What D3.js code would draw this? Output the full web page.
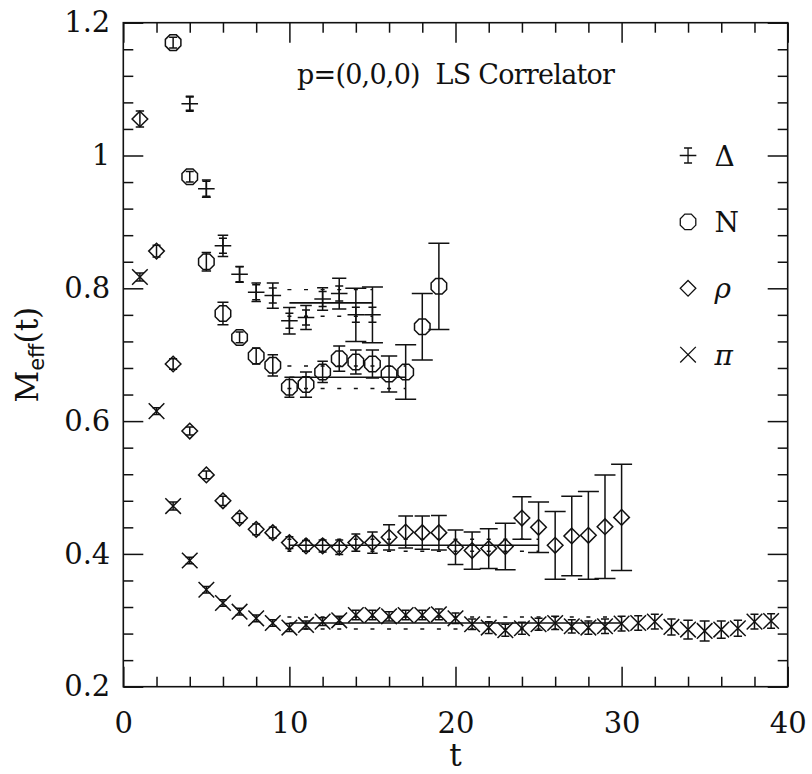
<!DOCTYPE html>
<html>
<head>
<meta charset="utf-8">
<script src="https://cdn.jsdelivr.net/npm/d3@7"></script>
<style>
  body { margin: 0; background: #fff; }
  text { fill: #111; }
</style>
</head>
<body>
<div id="chart"></div>
<script>

// ---- data ----
var tDelta = [4, 5, 6, 7, 8, 9, 10, 11, 12, 13, 14, 15];
var mDelta = [1.078, 0.950, 0.864, 0.821, 0.794, 0.789, 0.751, 0.756, 0.784, 0.792, 0.760, 0.760];
var eDelta = [0.010, 0.013, 0.016, 0.012, 0.014, 0.019, 0.020, 0.018, 0.017, 0.023, 0.040, 0.042];

var tN = [3, 4, 5, 6, 7, 8, 9, 10, 11, 12, 13, 14, 15, 16, 17, 18, 19];
var mN = [1.170, 0.968, 0.840, 0.762, 0.726, 0.698, 0.684, 0.651, 0.655, 0.674, 0.694, 0.689, 0.686, 0.671, 0.674, 0.742, 0.803];
var eN = [0.008, 0.008, 0.014, 0.017, 0.008, 0.012, 0.016, 0.015, 0.019, 0.016, 0.019, 0.018, 0.021, 0.027, 0.041, 0.050, 0.065];

var tRho = [1, 2, 3, 4, 5, 6, 7, 8, 9, 10, 11, 12, 13, 14, 15, 16, 17, 18, 19, 20, 21, 22, 23, 24, 25, 26, 27, 28, 29, 30];
var mRho = [1.055, 0.856, 0.686, 0.585, 0.519, 0.480, 0.454, 0.437, 0.432, 0.417, 0.412, 0.412, 0.410, 0.417, 0.417,
            0.425, 0.433, 0.432, 0.432, 0.410, 0.405, 0.408, 0.411, 0.454, 0.440, 0.413, 0.427, 0.428, 0.441, 0.455];
var eRho = [0.012, 0.009, 0.008, 0.006, 0.006, 0.007, 0.007, 0.008, 0.008, 0.009, 0.008, 0.009, 0.011, 0.013, 0.016,
            0.019, 0.024, 0.025, 0.026, 0.026, 0.028, 0.030, 0.035, 0.032, 0.038, 0.051, 0.060, 0.066, 0.078, 0.080];

var tPi = [1, 2, 3, 4, 5, 6, 7, 8, 9, 10, 11, 12, 13, 14, 15, 16, 17, 18, 19, 20,
           21, 22, 23, 24, 25, 26, 27, 28, 29, 30, 31, 32, 33, 34, 35, 36, 37, 38, 39];
var mPi = [0.817, 0.615, 0.472, 0.390, 0.346, 0.326, 0.313, 0.303, 0.296, 0.289, 0.293, 0.298, 0.300, 0.308, 0.308,
           0.306, 0.308, 0.308, 0.309, 0.303, 0.294, 0.289, 0.285, 0.288, 0.294, 0.296, 0.291, 0.289, 0.291, 0.295,
           0.296, 0.298, 0.290, 0.286, 0.284, 0.286, 0.288, 0.298, 0.299];
var ePi = [0.006, 0.005, 0.006, 0.005, 0.005, 0.005, 0.005, 0.005, 0.005, 0.006, 0.006, 0.006, 0.006, 0.007, 0.007,
           0.007, 0.007, 0.007, 0.008, 0.008, 0.008, 0.009, 0.009, 0.009, 0.009, 0.010, 0.010, 0.010, 0.011, 0.011,
           0.011, 0.011, 0.012, 0.014, 0.015, 0.013, 0.012, 0.011, 0.011];

// plateau fits: start, end, value, error
var fitNames = ["Delta", "N", "rho", "pi"];
var fitStart = [10, 10, 10, 10];
var fitEnd   = [15, 17, 25, 30];
var fitValue = [0.778, 0.666, 0.413, 0.296];
var fitError = [0.020, 0.017, 0.009, 0.009];

var legendLabels = ["\u0394", "N", "\u03c1", "\u03c0"];
var legendItalic = [false, false, true, true];

var xMajorTicks = [0, 10, 20, 30, 40];
var xTickLabels = ["0", "10", "20", "30", "40"];
var yMajorTicks = [0.2, 0.4, 0.6, 0.8, 1.0, 1.2];
var yTickLabels = ["0.2", "0.4", "0.6", "0.8", "1", "1.2"];

var titleText = "p=(0,0,0)  LS Correlator";

// ---- chart ----
var W = 812, H = 774;
var pLeft = 123.3, pRight = 787.7, pTop = 22.7, pBottom = 686.7;
var ink = "#111";
var serif = "'DejaVu Serif', 'Liberation Serif', serif";

var svg = d3.select("#chart").append("svg")
    .attr("width", W).attr("height", H)
    .attr("viewBox", "0 0 " + W + " " + H);

var x = d3.scaleLinear().domain([0, 40]).range([pLeft, pRight]);
var y = d3.scaleLinear().domain([0.2, 1.2]).range([pBottom, pTop]);

var xMinor = d3.range(0, 40.001, 2).filter(function(v){ return v % 10 !== 0; });
var yMinor = d3.range(0, 26).map(function(i){ return +(0.2 + i * 0.04).toFixed(2); })
    .filter(function(v){ return yMajorTicks.indexOf(v) < 0 && v <= 1.2; });

function styleAxis(g){
    g.select(".domain").remove();
    g.selectAll("line").attr("stroke", ink).attr("stroke-width", 1.5);
    g.selectAll("text").attr("font-family", serif).attr("font-size", 29).attr("fill", ink);
}

// bottom / top
svg.append("g").attr("transform", "translate(0," + pBottom + ")")
    .call(d3.axisBottom(x).tickValues(xMajorTicks).tickSize(-20).tickPadding(26)
        .tickFormat(function(d, i){ return xTickLabels[i]; }))
    .call(styleAxis);
svg.append("g").attr("transform", "translate(0," + pBottom + ")")
    .call(d3.axisBottom(x).tickValues(xMinor).tickSize(-10).tickFormat(""))
    .call(styleAxis);
svg.append("g").attr("transform", "translate(0," + pTop + ")")
    .call(d3.axisTop(x).tickValues(xMajorTicks).tickSize(-20).tickFormat(""))
    .call(styleAxis);
svg.append("g").attr("transform", "translate(0," + pTop + ")")
    .call(d3.axisTop(x).tickValues(xMinor).tickSize(-10).tickFormat(""))
    .call(styleAxis);

// left / right
svg.append("g").attr("transform", "translate(" + pLeft + ",0)")
    .call(d3.axisLeft(y).tickValues(yMajorTicks).tickSize(-20).tickPadding(13)
        .tickFormat(function(d, i){ return yTickLabels[i]; }))
    .call(styleAxis);
svg.append("g").attr("transform", "translate(" + pLeft + ",0)")
    .call(d3.axisLeft(y).tickValues(yMinor).tickSize(-10).tickFormat(""))
    .call(styleAxis);
svg.append("g").attr("transform", "translate(" + pRight + ",0)")
    .call(d3.axisRight(y).tickValues(yMajorTicks).tickSize(-20).tickFormat(""))
    .call(styleAxis);
svg.append("g").attr("transform", "translate(" + pRight + ",0)")
    .call(d3.axisRight(y).tickValues(yMinor).tickSize(-10).tickFormat(""))
    .call(styleAxis);

svg.append("rect")
    .attr("x", pLeft).attr("y", pTop)
    .attr("width", pRight - pLeft).attr("height", pBottom - pTop)
    .attr("fill", "none").attr("stroke", ink).attr("stroke-width", 1.6);

// axis titles
svg.append("text")
    .attr("x", (pLeft + pRight) / 2).attr("y", 766)
    .attr("text-anchor", "middle")
    .attr("font-family", serif).attr("font-size", 31)
    .text("t");

var yl = svg.append("text")
    .attr("transform", "translate(38," + ((pTop + pBottom) / 2) + ") rotate(-90)")
    .attr("text-anchor", "middle")
    .attr("font-family", serif).attr("font-size", 31);
yl.append("tspan").text("M");
yl.append("tspan").attr("dy", 6).attr("font-size", 21)
    .attr("font-family", "'DejaVu Sans', sans-serif").text("eff");
yl.append("tspan").attr("dy", -6).text("(t)");

// title
svg.append("text")
    .attr("x", 297).attr("y", 84)
    .attr("font-family", serif).attr("font-size", 27)
    .attr("textLength", 318).attr("lengthAdjust", "spacing")
    .style("white-space", "pre")
    .text(titleText);

// ---- fits ----
var plot = svg.append("g");
fitNames.forEach(function(name, i){
    var g = plot.append("g").attr("class", "fit-" + name);
    g.append("line")
        .attr("x1", x(fitStart[i])).attr("x2", x(fitEnd[i]))
        .attr("y1", y(fitValue[i])).attr("y2", y(fitValue[i]))
        .attr("stroke", ink).attr("stroke-width", 1.6);
    [-1, 1].forEach(function(s){
        g.append("line")
            .attr("x1", x(fitStart[i]) - 2).attr("x2", x(fitEnd[i]))
            .attr("y1", y(fitValue[i] + s * fitError[i])).attr("y2", y(fitValue[i] + s * fitError[i]))
            .attr("stroke", ink).attr("stroke-width", 1.4)
            .attr("stroke-dasharray", "4," + (x(1) - x(0) - 4));
    });
});

// ---- symbols ----
function octagon(r){
    var pts = d3.range(8).map(function(k){
        var a = Math.PI / 8 + k * Math.PI / 4;
        return [r * Math.cos(a), r * Math.sin(a)];
    });
    return "M" + pts.join("L") + "Z";
}
var symPath = {
    Delta: "M-8.3,0H8.3M0,-7.5V7.5M-4,-7.5H4M-4,7.5H4",
    N: octagon(8.4),
    rho: "M0,-7.8L7.8,0L0,7.8L-7.8,0Z",
    pi: "M-7.8,-7.8L7.8,7.8M-7.8,7.8L7.8,-7.8"
};

function drawSeries(name, ts, ms, es){
    var g = plot.append("g").attr("class", "series-" + name);
    var pts = g.selectAll("g").data(ts.map(function(t, i){ return {t: t, m: ms[i], e: es[i]}; }))
        .enter().append("g")
        .attr("transform", function(d){ return "translate(" + x(d.t) + "," + y(d.m) + ")"; });
    pts.each(function(d){
        var sel = d3.select(this);
        var ePx = y(d.m - d.e) - y(d.m);
        var cap = Math.max(4, Math.min(10.5, 1 + 0.4 * ePx));
        sel.append("path")
            .attr("d", "M0," + (-ePx) + "V" + ePx +
                       "M" + (-cap) + "," + (-ePx) + "H" + cap +
                       "M" + (-cap) + "," + ePx + "H" + cap)
            .attr("fill", "none").attr("stroke", ink).attr("stroke-width", 1.5);
        sel.append("path")
            .attr("d", symPath[name])
            .attr("fill", "none").attr("stroke", ink).attr("stroke-width", 1.5);
    });
}

drawSeries("Delta", tDelta, mDelta, eDelta);
drawSeries("N", tN, mN, eN);
drawSeries("rho", tRho, mRho, eRho);
drawSeries("pi", tPi, mPi, ePi);

// ---- legend ----
var legend = svg.append("g");
fitNames.forEach(function(name, i){
    var ly = y(1.0 - 0.1 * i);
    legend.append("path")
        .attr("transform", "translate(" + x(34) + "," + ly + ")")
        .attr("d", symPath[name])
        .attr("fill", "none").attr("stroke", ink).attr("stroke-width", 1.3);
    legend.append("text")
        .attr("x", x(35.6)).attr("y", ly).attr("dy", "0.36em")
        .attr("font-family", serif).attr("font-size", 28)
        .attr("font-style", legendItalic[i] ? "italic" : "normal")
        .text(legendLabels[i]);
});

</script>
</body>
</html>
